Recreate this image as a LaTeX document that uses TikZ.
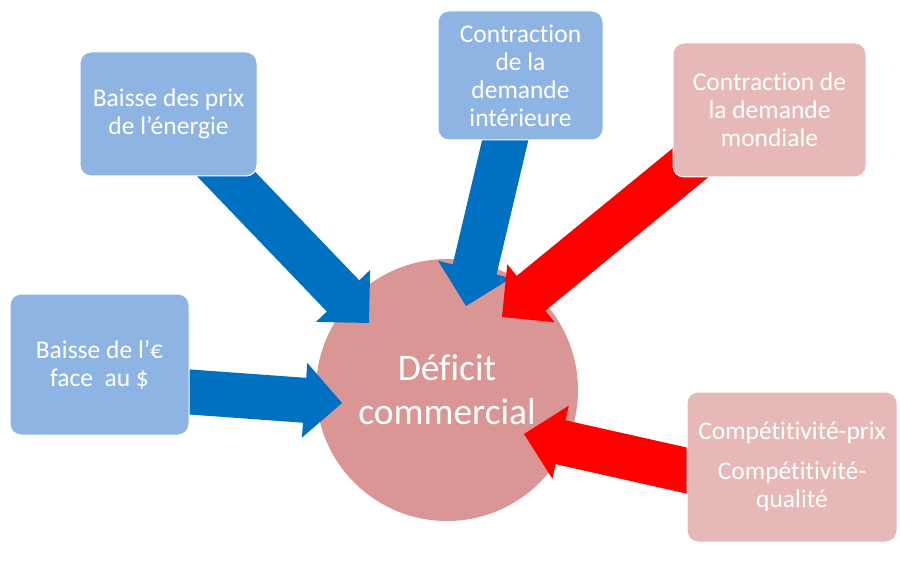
\documentclass[tikz,border=0pt]{standalone}
\usepackage{fontspec}
\setmainfont{Carlito}[Ligatures=NoCommon]
\usetikzlibrary{calc}
\definecolor{boxblue}{HTML}{8EB4E3}
\definecolor{boxpink}{HTML}{E6B9B8}
\definecolor{circpink}{HTML}{D99694}
\definecolor{arrblue}{HTML}{0070C0}
\definecolor{arrred}{HTML}{FF0000}
\pgfdeclarelayer{bg}
\pgfdeclarelayer{mid}
\pgfsetlayers{bg,mid,main}
\newcommand\blockarrow[3]{%
  \coordinate (ba-s) at (#1);
  \coordinate (ba-t) at (#2);
  \coordinate (ba-b) at ($(ba-t)!37.5pt!(ba-s)$);
  \fill[#3] ($(ba-s)!22.5pt!90:(ba-t)$) -- ($(ba-b)!22.5pt!90:(ba-t)$)
    -- ($(ba-b)!37.5pt!90:(ba-t)$) -- (ba-t) -- ($(ba-b)!37.5pt!-90:(ba-t)$)
    -- ($(ba-b)!22.5pt!-90:(ba-t)$) -- ($(ba-s)!22.5pt!-90:(ba-t)$) -- cycle;
}
\tikzset{
  cause/.style={rectangle, rounded corners=11pt, draw=white, line width=1pt,
    inner sep=0pt, text=white, align=center,
    font=\fontsize{25.5}{28}\selectfont},
  bluebox/.style={cause, fill=boxblue},
  pinkbox/.style={cause, fill=boxpink},
  centre/.style={circle, fill=circpink, inner sep=0pt, minimum size=262pt,
    text=white, align=center, font=\fontsize{37.5}{44}\selectfont}
}
\begin{document}
\begin{tikzpicture}[x=1pt,y=-1pt]
\useasboundingbox (0,0) rectangle (900,567);
\begin{pgfonlayer}{bg}
  \node[centre] (c) at (447,390) {Déficit\\commercial};
\end{pgfonlayer}
\node[bluebox, minimum width=177pt, minimum height=124pt] (m1) at (168.5,114)
  {Baisse des prix\\de l’énergie};
\node[bluebox, minimum width=165pt, minimum height=129pt] (m2) at (520.5,75.5)
  {Contraction\\de la\\demande\\intérieure};
\node[pinkbox, minimum width=193pt, minimum height=134pt] (m3) at (769.5,110)
  {Contraction de\\la demande\\mondiale};
\node[bluebox, minimum width=179pt, minimum height=141pt] (m4) at (99.5,364.5)
  {Baisse de l’€\\face\ \ au \$};
\node[pinkbox, minimum width=210pt, minimum height=150pt] (m5) at (792,467)
  {Compétitivité-prix\\[12pt]Compétitivité-\\qualité};
\coordinate (t1) at (369,323);
\coordinate (t2) at (466,306);
\coordinate (t3) at (502,317);
\coordinate (t4) at (342,403);
\coordinate (t5) at (524,434);
\begin{pgfonlayer}{mid}
  \blockarrow{m1.center}{t1}{arrblue}
  \blockarrow{m2.center}{t2}{arrblue}
  \blockarrow{$(t3)!1.25!(m3.south west)$}{t3}{arrred}
  \blockarrow{$(m4.east)+(-20,26)$}{t4}{arrblue}
  \blockarrow{$(m5.west)+(20,8)$}{t5}{arrred}
\end{pgfonlayer}
\end{tikzpicture}
\end{document}
